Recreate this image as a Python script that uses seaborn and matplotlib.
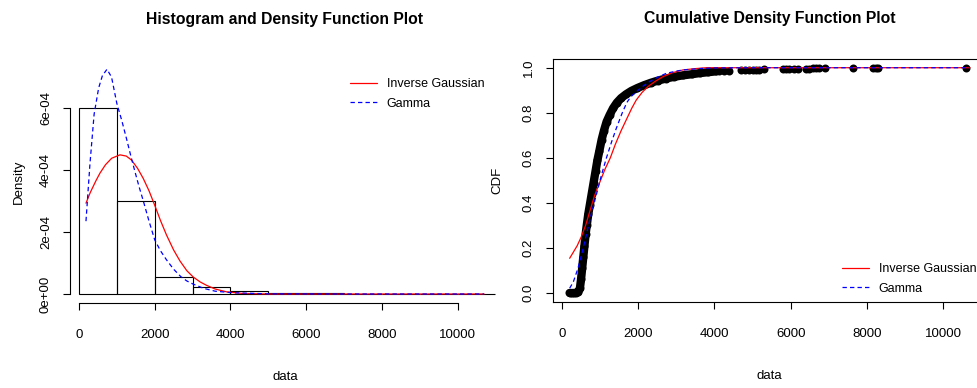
import numpy as np
import pandas as pd
import matplotlib
matplotlib.use("Agg")
import matplotlib.pyplot as plt
import seaborn as sns

# %% data
bin_edges = [0, 1000, 2000, 3000, 4000, 5000, 6000, 7000, 8000, 9000, 10000, 11000]
hist_density = [6.0e-4, 3.0e-4, 0.56e-4, 0.235e-4, 0.087e-4, 0.04e-4, 0.04e-4,
                0.005e-4, 0.015e-4, 0.0, 0.005e-4]

ig_pdf_x = [185, 300, 450, 554, 700, 863, 1082, 1250, 1390, 1550, 1697, 1850,
            2005, 2150, 2313, 2500, 2665, 2850, 3016, 3200, 3370, 3600, 3897, 4300,
            5000, 7000, 10700]
ig_pdf_y = [2.93e-4, 3.28e-4, 3.66e-4, 3.9e-4, 4.17e-4, 4.38e-4, 4.49e-4, 4.45e-4, 4.32e-4,
            4.05e-4, 3.73e-4, 3.33e-4, 2.85e-4, 2.38e-4, 1.9e-4, 1.42e-4, 1.07e-4,
            0.75e-4, 0.55e-4, 0.39e-4, 0.28e-4, 0.16e-4, 0.07e-4, 0.02e-4, 0.0, 0.0, 0.0]

gamma_pdf_x = [185, 290, 400, 520, 620, 740, 860, 1000, 1130, 1258, 1370, 1478, 1590,
               1700, 1850, 2000, 2150, 2313, 2500, 2690, 2850, 3016, 3300, 3600, 4071,
               5000, 7000, 10700]
gamma_pdf_y = [2.35e-4, 4.2e-4, 5.8e-4, 6.65e-4, 7.05e-4, 7.25e-4, 7.0e-4, 6.15e-4, 5.6e-4,
               5.0e-4, 4.45e-4, 3.95e-4, 3.45e-4, 3.0e-4, 2.35e-4, 1.75e-4, 1.4e-4, 1.1e-4,
               0.8e-4, 0.56e-4, 0.42e-4, 0.32e-4, 0.18e-4, 0.09e-4, 0.04e-4, 0.005e-4, 0.0, 0.0]

ecdf_x = [200, 260, 320, 380, 430, 470, 500, 530, 560, 590, 620, 650, 690, 730, 780,
          830, 880, 930, 980, 1040, 1100, 1170, 1250, 1340, 1440, 1550, 1680, 1820, 1980,
          2150, 2330, 2520, 2730, 2950, 3170, 3400, 3608, 3830, 4045,
          4126, 4257, 4388, 4700, 4787, 4918, 5005, 5093, 5180, 5311, 5790, 5878, 5965,
          6096, 6184, 6403, 6490, 6578, 6665, 6733, 6907, 7640, 8147, 8234, 8277, 10595]
ecdf_y = [0.0, 0.0, 0.0, 0.002, 0.006, 0.02, 0.06, 0.11, 0.16, 0.21, 0.26, 0.30, 0.35,
          0.39, 0.44, 0.49, 0.54, 0.59, 0.63, 0.68, 0.72, 0.76, 0.79, 0.82, 0.845, 0.865,
          0.882, 0.897, 0.91, 0.922, 0.933, 0.943, 0.952, 0.96, 0.966, 0.971, 0.976, 0.98,
          0.984,
          0.985, 0.986, 0.987, 0.988, 0.989, 0.99, 0.991, 0.991, 0.992, 0.993, 0.993, 0.994,
          0.994, 0.995, 0.995, 0.996, 0.996, 0.997, 0.997, 0.998, 0.998, 0.998, 0.999,
          0.999, 0.999, 1.0]

ig_cdf_x = [202, 400, 508, 620, 726, 850, 988, 1130, 1268, 1400, 1550, 1690, 1830, 1950,
            2100, 2253, 2450, 2646, 2900, 3170, 3500, 3783, 5000, 7000, 10700]
ig_cdf_y = [0.154, 0.21, 0.25, 0.30, 0.36, 0.43, 0.49, 0.55, 0.60, 0.66, 0.72, 0.77, 0.82,
            0.857, 0.89, 0.916, 0.94, 0.96, 0.978, 0.99, 0.996, 1.0, 1.0, 1.0, 1.0]

gamma_cdf_x = [202, 300, 420, 530, 638, 760, 900, 1030, 1163, 1300, 1425, 1582, 1700, 1800,
               1949, 2100, 2298, 2500, 2735, 3000, 3170, 3600, 4000, 5000, 7000, 10700]
gamma_cdf_y = [0.021, 0.05, 0.11, 0.18, 0.257, 0.345, 0.435, 0.52, 0.598, 0.67, 0.731, 0.80,
               0.845, 0.87, 0.893, 0.915, 0.938, 0.957, 0.975, 0.985, 0.99, 0.996, 0.999,
               1.0, 1.0, 1.0]

density_ticks = [0, 2e-4, 4e-4, 6e-4]
density_labels = ["0e+00", "2e-04", "4e-04", "6e-04"]
cdf_ticks = [0, 0.2, 0.4, 0.6, 0.8, 1.0]
cdf_labels = ["0.0", "0.2", "0.4", "0.6", "0.8", "1.0"]
x_ticks = [0, 2000, 4000, 6000, 8000, 10000]

# %% style
sns.set_style("ticks")
plt.rcParams['font.family'] = ['Liberation Sans', 'DejaVu Sans']
plt.rcParams['axes.linewidth'] = 0.8
plt.rcParams['xtick.major.size'] = 5
plt.rcParams['ytick.major.size'] = 5
plt.rcParams['xtick.major.width'] = 0.8
plt.rcParams['ytick.major.width'] = 0.8
for k in ['text.color', 'axes.labelcolor', 'xtick.color', 'ytick.color', 'axes.edgecolor']:
    plt.rcParams[k] = 'black'

W, H = 977, 388
fig = plt.figure(figsize=(W / 100, H / 100), dpi=100)
ax1 = fig.add_axes([70 / W, (H - 303) / H, 430 / W, 243 / H])
ax2 = fig.add_axes([553 / W, (H - 302) / H, 433 / W, 243.3 / H])

TICK_FS = 9.5
LAB_FS = 9.5
LEG_FS = 9
TITLE_FS = 11.3

# %% left: histogram + densities
mids = [(a + b) / 2 for a, b in zip(bin_edges[:-1], bin_edges[1:])]
sns.histplot(x=mids, weights=hist_density, bins=bin_edges, stat="count", fill=False,
             color="black", linewidth=0.8, ax=ax1)
sns.lineplot(x=ig_pdf_x, y=ig_pdf_y, color="#ff0000", linewidth=0.9, ax=ax1,
             label="Inverse Gaussian")
sns.lineplot(x=gamma_pdf_x, y=gamma_pdf_y, color="#0000ff", linewidth=0.9, ax=ax1,
             label="Gamma")
ax1.lines[-1].set_dashes([3.5, 2.5])

ax1.set_xlim(-237, 11120)
ax1.set_ylim(-0.29e-4, 7.55e-4)
ax1.set_xticks(x_ticks)
ax1.set_xticklabels([str(t) for t in x_ticks])
ax1.set_yticks(density_ticks)
ax1.set_yticklabels(density_labels, rotation=90, va="center")
ax1.spines["top"].set_visible(False)
ax1.spines["right"].set_visible(False)
ax1.spines["left"].set_bounds(0, 6e-4)
ax1.spines["bottom"].set_bounds(0, 10000)
ax1.tick_params(axis="x", labelsize=TICK_FS, pad=14)
ax1.tick_params(axis="y", labelsize=TICK_FS, pad=8)
ax1.set_xlabel("data", fontsize=LAB_FS, labelpad=21)
ax1.set_ylabel("Density", fontsize=LAB_FS, labelpad=11)
ax1.set_title("Histogram and Density Function Plot", fontsize=TITLE_FS, fontweight="bold", pad=26)
ax1.legend(loc="upper left", bbox_to_anchor=(0.651, 0.925), frameon=False, fontsize=LEG_FS,
           handlelength=2.2, handletextpad=0.75, labelspacing=0.6, borderpad=0,
           borderaxespad=0)

# %% right: empirical CDF + fitted CDFs
ecdf = pd.DataFrame({"x": ecdf_x, "y": ecdf_y})
dense = ecdf[ecdf["x"] <= 4100]
sns.lineplot(data=dense, x="x", y="y", color="black", linewidth=6, ax=ax2,
             solid_capstyle="round")
sns.scatterplot(data=ecdf, x="x", y="y", color="black", s=33, linewidth=0, ax=ax2)
sns.lineplot(x=ig_cdf_x, y=ig_cdf_y, color="#ff0000", linewidth=0.9, ax=ax2,
             label="Inverse Gaussian")
sns.lineplot(x=gamma_cdf_x, y=gamma_cdf_y, color="#0000ff", linewidth=0.9, ax=ax2,
             label="Gamma")
ax2.lines[-1].set_dashes([3.5, 2.5])

ax2.set_xlim(-235, 11120)
ax2.set_ylim(-0.04, 1.04)
ax2.set_xticks(x_ticks)
ax2.set_xticklabels([str(t) for t in x_ticks])
ax2.set_yticks(cdf_ticks)
ax2.set_yticklabels(cdf_labels, rotation=90, va="center")
ax2.tick_params(axis="x", labelsize=TICK_FS, pad=14)
ax2.tick_params(axis="y", labelsize=TICK_FS, pad=8)
ax2.set_xlabel("data", fontsize=LAB_FS, labelpad=21)
ax2.set_ylabel("CDF", fontsize=LAB_FS, labelpad=14)
ax2.set_title("Cumulative Density Function Plot", fontsize=TITLE_FS, fontweight="bold", pad=26)
ax2.legend(loc="lower left", bbox_to_anchor=(0.667, 0.03), frameon=False, fontsize=LEG_FS,
           handlelength=2.2, handletextpad=0.75, labelspacing=0.6, borderpad=0,
           borderaxespad=0)

fig.savefig("out.png", dpi=100)
